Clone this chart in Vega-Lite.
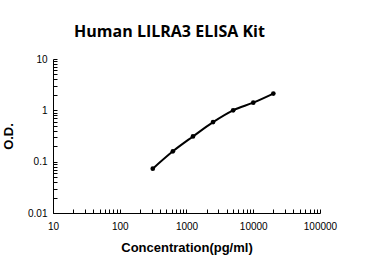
{
  "$schema": "https://vega.github.io/schema/vega-lite/v6.json",
  "autosize": "none",
  "width": 267,
  "height": 154,
  "padding": {"left": 53, "top": 59, "right": 57, "bottom": 65},
  "background": "white",
  "title": {
    "text": "Human LILRA3 ELISA Kit",
    "font": "Open Sans",
    "fontSize": 16,
    "fontWeight": "bold",
    "color": "black",
    "anchor": "middle",
    "dx": -17,
    "offset": 14
  },
  "config": {
    "view": {"stroke": null},
    "axis": {
      "grid": false,
      "domainColor": "black",
      "tickColor": "black",
      "labelColor": "black",
      "labelFont": "Liberation Sans",
      "labelFontSize": 10,
      "titleFont": "Liberation Sans",
      "titleFontSize": 13,
      "titleFontWeight": "bold",
      "titleColor": "black",
      "labelOverlap": false,
      "labelFlush": false
    }
  },
  "data": {
    "values": [
      {"conc": 312.5, "od": 0.073},
      {"conc": 625, "od": 0.159},
      {"conc": 1250, "od": 0.31},
      {"conc": 2500, "od": 0.59},
      {"conc": 5000, "od": 1.0},
      {"conc": 10000, "od": 1.41},
      {"conc": 20000, "od": 2.12}
    ]
  },
  "encoding": {
    "x": {
      "field": "conc",
      "type": "quantitative",
      "scale": {"type": "log", "domain": [10, 100000], "nice": false},
      "axis": {
        "title": "Concentration(pg/ml)",
        "titlePadding": 10,
        "values": [10,20,30,40,50,60,70,80,90,100,200,300,400,500,600,700,800,900,1000,2000,3000,4000,5000,6000,7000,8000,9000,10000,20000,30000,40000,50000,60000,70000,80000,90000,100000],
        "format": "~g",
        "labelExpr": "abs(log(datum.value)/LN10 - round(log(datum.value)/LN10)) < 0.000001 ? datum.label : ''",
        "tickSize": -4,
        "labelPadding": 12
      }
    },
    "y": {
      "field": "od",
      "type": "quantitative",
      "scale": {"type": "log", "domain": [0.01, 10], "nice": false},
      "axis": {
        "title": "O.D.",
        "titlePadding": 12,
        "values": [0.01,0.02,0.03,0.04,0.05,0.06,0.07,0.08,0.09,0.1,0.2,0.3,0.4,0.5,0.6,0.7,0.8,0.9,1,2,3,4,5,6,7,8,9,10],
        "format": "~g",
        "labelExpr": "abs(log(datum.value)/LN10 - round(log(datum.value)/LN10)) < 0.000001 ? datum.label : ''",
        "tickSize": -4,
        "labelPadding": 10
      }
    }
  },
  "layer": [
    {"mark": {"type": "line", "interpolate": "monotone", "color": "black", "strokeWidth": 2}},
    {"mark": {"type": "point", "filled": true, "color": "black", "size": 22, "opacity": 1}}
  ]
}
